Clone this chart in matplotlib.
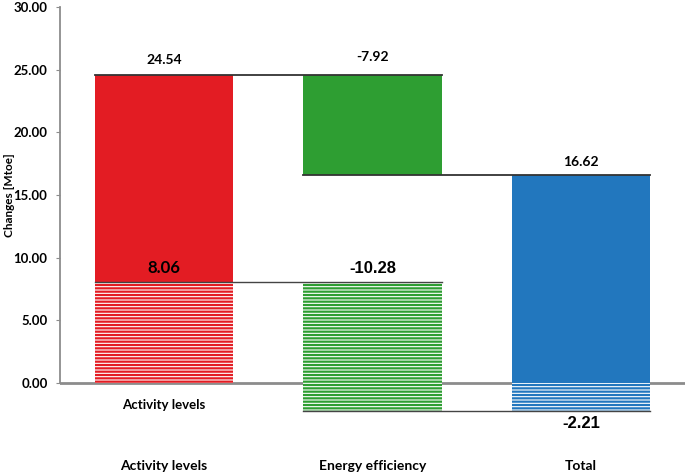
import numpy as np
from matplotlib import pyplot as plt

plt.rcParams['hatch.linewidth'] = 1.6
plt.rcParams['font.family'] = ['Lato', 'DejaVu Sans']

#---- Data

categories  = ['Activity levels', 'Energy efficiency', 'Total']
solid_vals  = [24.54, -7.92, 16.62]     # upper (solid) decomposition
hatch_vals  = [8.06, -10.28, -2.21]     # lower (hatched) decomposition
colors      = ['#E31C23', '#2E9E32', '#2277BE']
yticks      = [0, 5, 10, 15, 20, 25, 30]

w = 0.665
x = np.arange(len(categories))

solid_base = [0, solid_vals[0], 0]
hatch_base = [0, hatch_vals[0], 0]

#---- Figure

fig = plt.figure(figsize=(6.85, 4.72), dpi=100)
ax = fig.add_axes([60/685, 26.3/472, 1 - 60/685, 438.7/472])

ax.axhline(0, color='#8c8c8c', lw=2, zorder=1)

# solid bars
ax.bar(x, solid_vals, w, bottom=solid_base, color=colors, linewidth=0, zorder=2)

# hatched bars (white face, coloured stripes)
for i in range(len(x)):
    ax.bar(x[i], hatch_vals[i], w, bottom=hatch_base[i], facecolor='white',
           edgecolor=colors[i], hatch='-----', linewidth=0, zorder=3)

# connectors
top_a = solid_vals[0]
top_b = solid_vals[0] + solid_vals[1]
low_a = hatch_vals[0]
low_b = hatch_vals[0] + hatch_vals[1]
ax.plot([x[0]-w/2, x[1]+w/2], [top_a, top_a], color='#333333', lw=1.3, zorder=4)
ax.plot([x[1]-w/2, x[2]+w/2], [top_b, top_b], color='#333333', lw=1.3, zorder=4)
ax.plot([x[0]-w/2, x[1]+w/2], [low_a, low_a], color='#444444', lw=1.0, zorder=4)
ax.plot([x[1]-w/2, x[2]+w/2], [low_b, low_b], color='#444444', lw=1.0, zorder=4)

# value labels
ax.text(x[0], top_a + 1.25, '%.2f' % solid_vals[0], ha='center', va='center', fontsize=10, fontweight='bold')
ax.text(x[1], top_a + 1.45, '%.2f' % solid_vals[1], ha='center', va='center', fontsize=10, fontweight='bold')
ax.text(x[2], top_b + 1.05, '%.2f' % solid_vals[2], ha='center', va='center', fontsize=10, fontweight='bold')
ax.text(x[0], low_a + 1.1, '%.2f' % hatch_vals[0], ha='center', va='center', fontsize=12, fontweight='bold')
ax.text(x[1], low_a + 1.1, '%.2f' % hatch_vals[1], ha='center', va='center', fontsize=12,
        fontweight='bold', family='Liberation Sans')
ax.text(x[2], hatch_vals[2] - 1.05, '%.2f' % hatch_vals[2], ha='center', va='center', fontsize=12,
        fontweight='bold', family='Liberation Sans')
ax.text(x[0], -1.75, categories[0], ha='center', va='center', fontsize=9.5, fontweight='bold')

# axes styling
ax.set_xlim(-0.5, 2.5)
ax.set_ylim(-5, 30)
ax.set_yticks(yticks)
ax.set_yticklabels(['%.2f' % v for v in yticks], fontsize=9.5, fontweight='bold')
ax.set_xticks(x)
ax.set_xticklabels(categories, fontsize=10, fontweight='bold')
ax.tick_params(axis='x', length=0, pad=10)
ax.tick_params(axis='y', length=3, color='#8c8c8c', pad=6)

for s in ['top', 'right', 'bottom']:
    ax.spines[s].set_visible(False)
ax.spines['left'].set_bounds(0, 30)
ax.spines['left'].set_color('#8c8c8c')
ax.spines['left'].set_linewidth(1.3)

ax.set_ylabel('Changes [Mtoe]', fontsize=8.5, fontweight='bold')
ax.yaxis.set_label_coords(-45/625, 1 - (195 - 7) / 438.7)

plt.savefig('out.png', dpi=100)
